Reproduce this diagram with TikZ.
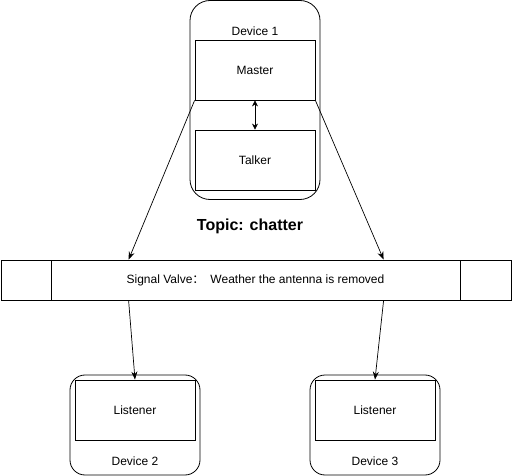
\documentclass[tikz,border=0pt]{standalone}
\usepackage{fontspec}
\setmainfont{Liberation Sans}
\newfontfamily\cjk{Noto Sans CJK SC}
\usetikzlibrary{arrows.meta,calc}

\tikzset{
  box/.style={draw, line width=0.8pt, minimum width=120pt, minimum height=60pt, inner sep=0pt, font=\fontsize{12}{14}\selectfont},
  device/.style={draw, line width=0.8pt, rounded corners=#1, inner sep=0pt},
  lbl/.style={font=\fontsize{12}{14}\selectfont, inner sep=0pt},
  arr/.style={-{Stealth[length=8pt,width=6pt]}, line width=0.7pt}
}

\begin{document}
\begin{tikzpicture}[x=1pt,y=-1pt]
\useasboundingbox (0,0) rectangle (512,476);

\node[device=20pt, minimum width=130pt, minimum height=199pt] (dev1) at (255,100) {};
\node[box] (master) at (255,70) {Master};
\node[box] (talker) at (255,160) {Talker};
\node[lbl] (dev1lbl) at (255,31) {Device 1};
\draw[{Stealth[length=6pt,width=6pt]}-{Stealth[length=6pt,width=6pt]}, line width=0.7pt] (master.south) -- (talker.north);

\node[font=\fontsize{16}{18}\selectfont\bfseries] (topic) at (250,226) {Topic: chatter};

\node[draw, line width=0.8pt, minimum width=510pt, minimum height=40pt, inner sep=0pt] (valve) at (256,280) {};
\node[draw, line width=0.8pt, minimum width=409pt, minimum height=40pt, inner sep=0pt, font=\fontsize{12}{14}\selectfont] (valvetext) at (255.5,280) {Signal Valve{\cjk ：}\hspace{6pt}Weather the antenna is removed};

\node[device=15pt, minimum width=130pt, minimum height=100pt] (dev2) at (135,425) {};
\node[box] (listen2) at (135,410) {Listener};
\node[lbl] (dev2lbl) at (135,461) {Device 2};

\node[device=15pt, minimum width=130pt, minimum height=100pt] (dev3) at (375,425) {};
\node[box] (listen3) at (375,410) {Listener};
\node[lbl] (dev3lbl) at (375,461) {Device 3};

\draw[arr] (master.south west) -- ($(valve.north west)+(128,0)$);
\draw[arr] (master.south east) -- ($(valve.north west)+(383,0)$);
\draw[arr] ($(valve.south west)+(128,0)$) -- (listen2.north);
\draw[arr] ($(valve.south west)+(383,0)$) -- (listen3.north);
\end{tikzpicture}
\end{document}
